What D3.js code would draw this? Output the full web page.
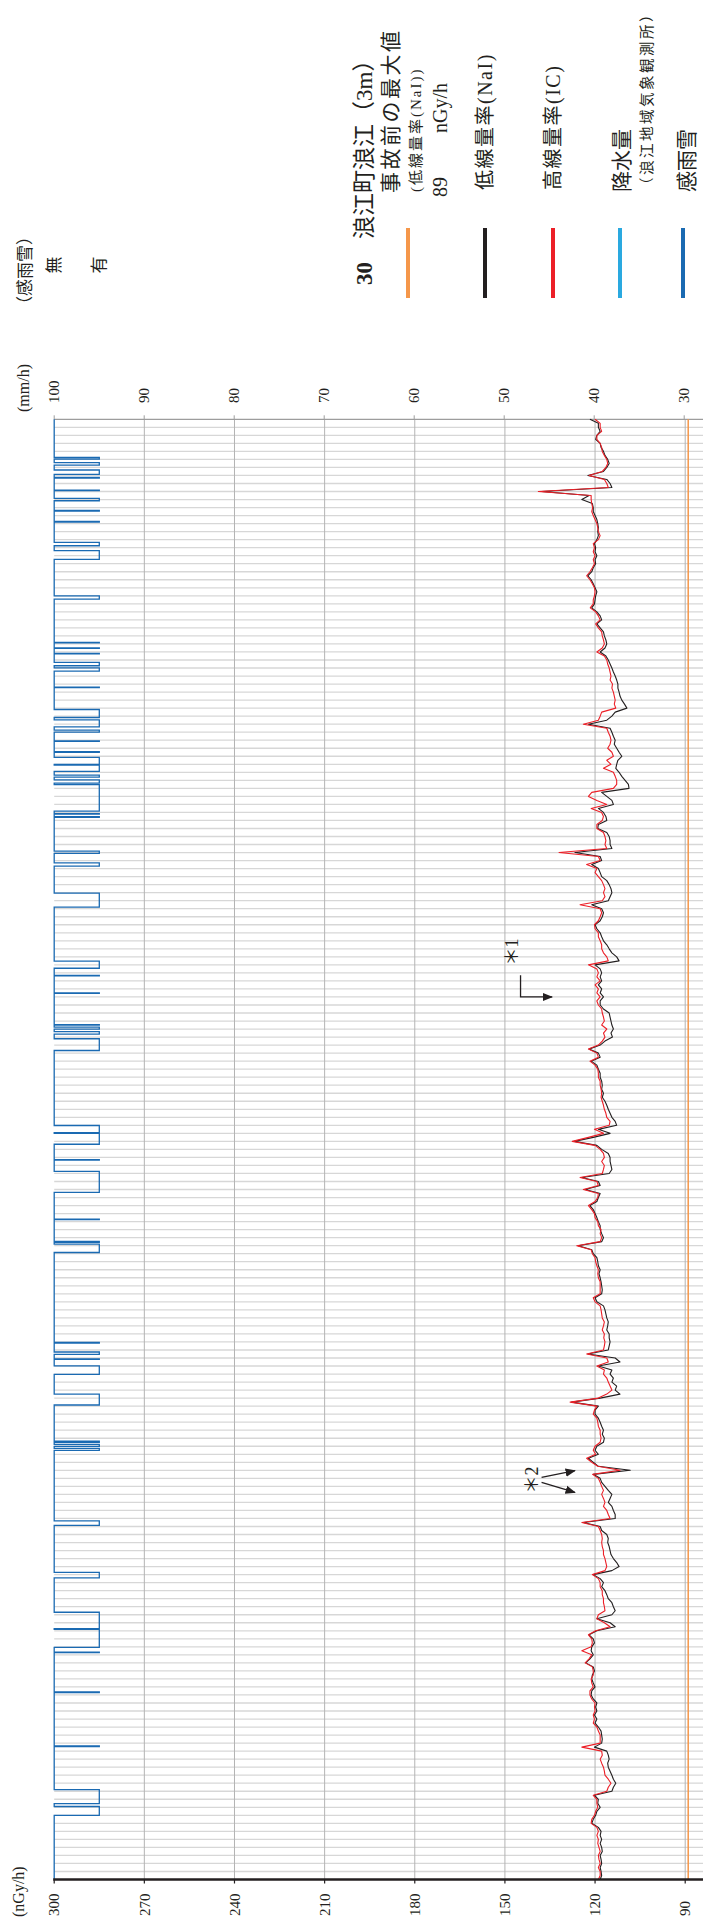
<!DOCTYPE html>
<html>
<head>
<meta charset="utf-8">
<script src="https://cdn.jsdelivr.net/npm/d3@7"></script>
<style>
  html, body { margin: 0; padding: 0; background: #fff; }
  svg { display: block; }
  text { font-family: "Liberation Serif", "Noto Sans CJK JP", serif; fill: #231f20; }
</style>
</head>
<body>
<svg id="chart" width="703" height="1919"></svg>
<script>
// ---- data ---------------------------------------------------------------
// Half-year record, one sample every half day (day 0 = start of the period).
const periodDays = 182;
const sampleStepDays = 0.5;

// Low dose-rate monitor, NaI (nGy/h)
const naiValues = [
  121.7,118.9,118.9,118.3,119.4,119.8,118.3,118.0,117.2,116.7,
  115.8,115.3,116.1,117.2,122.4,116.1,115.0,114.4,137.8,122.0,
  124.4,120.9,120.6,120.6,120.0,119.4,119.1,118.9,119.1,118.9,
  119.4,120.2,119.8,120.0,119.4,120.0,119.8,120.6,121.1,122.4,
  121.3,120.6,120.0,119.4,119.8,120.0,120.2,121.1,119.4,118.3,
  117.8,119.4,118.3,117.2,116.9,116.4,116.1,116.7,118.3,116.4,
  115.6,115.0,114.4,113.9,113.3,112.8,112.4,112.4,112.0,111.7,
  111.1,110.2,109.4,
  113.3,114.4,116.1,122.2,115.0,114.4,113.9,113.3,113.6,112.8,
  112.0,111.1,112.4,112.8,113.1,112.0,111.1,110.0,108.9,108.7,
  117.8,116.1,114.4,113.9,118.9,117.2,116.4,116.1,118.9,119.1,
  116.1,115.3,115.0,115.0,114.4,126.7,118.3,117.8,121.1,118.9,
  118.3,117.8,116.1,115.3,114.7,114.4,115.0,115.6,121.1,117.8,
  117.2,117.6,118.3,120.0,119.4,118.3,117.8,117.2,116.1,115.3,
  114.4,112.8,112.0,120.0,118.3,117.8,118.3,117.8,118.9,117.8,
  118.3,117.2,118.3,
  118.3,117.2,115.3,115.0,114.7,114.4,113.9,114.7,114.2,116.7,
  118.3,122.0,118.9,118.3,121.3,119.4,118.9,118.3,118.3,117.8,
  117.6,117.8,117.2,117.6,116.7,116.1,115.6,115.0,114.4,113.3,
  112.8,118.9,115.0,120.6,126.9,119.4,117.8,115.6,115.0,115.0,
  114.7,114.4,115.3,124.4,118.9,118.3,123.3,118.3,118.9,119.4,
  121.7,120.6,120.0,119.4,118.9,118.3,118.3,117.8,117.2,117.8,
  125.6,121.1,120.6,119.4,119.1,118.9,118.3,118.7,118.3,118.0,
  117.8,117.6,117.8,
  120.0,119.4,117.2,116.7,116.4,116.1,115.6,115.8,116.1,115.3,
  115.3,115.0,115.3,115.6,122.4,113.3,111.7,118.9,114.4,115.0,
  113.9,114.4,112.8,113.3,111.7,118.3,127.8,118.9,120.0,120.0,
  118.9,118.3,117.8,117.2,117.6,116.9,117.2,119.4,120.0,118.9,
  122.2,120.6,118.9,108.3,120.6,118.3,117.8,116.7,115.6,114.4,
  115.0,115.6,114.4,113.9,113.3,113.3,123.9,118.3,117.8,116.1,
  115.6,115.8,115.3,115.0,114.7,113.9,112.8,112.0,114.4,120.6,
  118.3,117.2,117.8,116.7,
  116.1,115.6,114.4,113.9,113.3,114.4,119.4,115.0,113.3,119.4,
  122.0,120.6,120.2,121.1,121.3,120.6,121.7,123.1,120.6,120.2,
  120.9,121.1,120.6,120.0,121.1,121.3,120.6,119.4,119.8,119.4,
  120.2,119.4,120.0,118.9,118.0,117.8,117.6,117.8,120.2,116.1,
  115.6,115.3,115.8,115.6,115.0,114.4,113.9,113.1,113.9,114.4,
  120.2,118.9,119.1,118.3,119.4,119.8,120.6,121.1,118.9,118.0,
  118.3,117.8,118.3,117.8,117.6,118.3,118.0,117.8,118.3,118.0,
  117.8,118.3
];

// High dose-rate monitor, ionisation chamber (nGy/h)
const icValues = [
  120.0,118.3,118.3,117.8,119.4,119.4,118.3,117.8,117.6,116.9,
  116.1,115.8,116.4,117.6,122.0,116.9,116.1,115.6,138.9,121.3,
  121.3,121.1,120.8,121.1,120.6,120.0,119.4,119.1,118.9,118.3,
  118.9,120.6,120.2,120.6,120.0,120.6,120.2,120.9,121.7,122.8,
  121.7,120.9,120.2,120.0,120.2,120.6,120.6,121.6,119.8,118.9,
  118.3,119.8,118.9,117.8,117.6,117.2,116.9,117.6,119.4,116.9,
  116.1,115.8,115.3,115.0,114.7,115.0,114.2,114.4,113.9,113.6,
  113.3,113.6,113.1,
  117.8,118.3,118.9,123.9,116.1,115.6,115.0,114.7,115.0,115.8,
  114.4,113.9,116.1,114.7,117.2,113.9,113.3,112.8,112.8,113.9,
  121.1,122.2,119.4,116.1,121.3,117.8,117.2,117.6,119.4,119.4,
  117.2,116.7,116.4,116.7,116.1,132.0,118.9,118.3,122.8,119.4,
  120.0,118.9,117.8,117.2,116.7,117.2,116.7,117.6,125.0,118.3,
  117.8,118.3,118.9,120.2,120.0,118.9,118.9,118.3,117.8,117.8,
  117.2,116.1,115.6,122.2,119.4,118.9,119.4,118.3,120.0,118.9,
  119.4,118.3,119.4,
  118.9,117.8,117.6,117.2,116.9,117.8,116.1,117.2,116.7,117.6,
  118.9,122.2,119.4,118.9,121.7,120.0,119.1,118.9,118.9,118.3,
  118.3,118.0,117.8,118.0,117.6,117.2,116.9,116.4,116.1,115.0,
  115.3,120.2,117.2,122.2,127.6,120.0,118.3,117.2,116.9,117.8,
  116.9,117.2,117.6,125.0,119.4,118.9,123.9,118.9,119.1,120.0,
  122.2,121.1,120.2,120.0,119.1,118.9,118.0,118.3,117.8,118.3,
  126.1,121.3,120.9,120.0,119.8,119.4,118.9,119.1,118.9,118.3,
  118.3,118.3,118.3,
  120.6,120.0,118.3,118.0,117.8,117.6,116.9,117.2,117.6,116.9,
  117.1,116.7,116.9,117.2,122.8,116.1,115.6,119.4,116.9,117.2,
  116.1,115.6,115.0,114.4,116.1,118.9,128.3,119.4,120.2,120.6,
  119.4,119.1,118.9,118.3,118.3,118.0,118.3,120.0,120.6,119.8,
  122.8,121.1,119.1,111.7,120.8,118.9,118.3,117.8,117.2,117.8,
  117.2,116.7,117.2,116.1,115.6,115.0,124.4,118.9,118.3,117.8,
  117.6,117.8,117.6,117.2,117.2,116.7,116.4,116.1,116.7,120.9,
  118.9,118.3,118.3,117.6,
  117.6,117.2,117.2,116.9,116.7,118.9,119.4,116.9,115.0,119.8,
  122.2,121.1,120.9,121.3,124.4,121.1,122.0,123.3,120.9,120.6,
  120.6,121.3,121.1,120.6,121.7,121.7,121.1,120.0,120.2,120.0,
  120.6,120.2,120.6,119.4,118.9,118.3,118.3,118.3,124.4,117.8,
  117.6,118.3,117.8,117.2,116.9,116.7,115.6,114.7,115.6,116.1,
  120.6,119.4,119.4,119.1,119.8,120.2,121.1,121.3,119.4,118.9,
  119.4,118.9,119.1,118.7,118.3,118.9,118.7,118.3,118.9,118.3,
  118.3,118.9
];

// Rain/snow sensor "on" intervals, [start day, end day]
const senseEvents = [
  [4.74,4.95],[5.41,5.70],[6.32,6.86],[7.23,7.32],[8.82,8.88],[9.85,10.15],
  [11.37,11.43],[12.74,12.81],[15.34,15.76],[16.38,17.46],[22.00,22.41],
  [27.81,27.87],[28.48,28.54],[29.18,29.24],[30.30,30.72],[30.97,31.38],
  [33.37,33.43],[36.17,37.17],[37.46,38.33],[38.74,38.99],[40.09,40.15],
  [41.43,41.50],[42.13,43.02],[43.11,43.89],[44.35,44.60],[44.94,45.35],
  [45.54,48.84],[49.15,49.21],[49.53,49.61],[53.83,54.11],[55.29,55.70],
  [59.06,60.81],[67.54,68.42],[69.31,69.38],[71.48,71.55],[75.45,75.52],
  [75.77,76.02],[76.33,76.62],[77.21,78.67],[88.02,88.90],[88.99,90.36],
  [92.28,92.34],[93.73,96.35],[99.70,99.76],[102.46,102.58],[102.81,103.85],
  [115.07,115.14],[116.25,116.55],[117.12,117.18],[117.99,119.04],[121.51,122.86],
  [127.36,127.52],[127.77,128.02],[128.27,128.52],[137.29,137.87],[143.72,144.41],
  [148.69,150.74],[150.81,153.07],[153.65,153.71],[158.63,158.69],[165.35,165.45],
  [170.79,172.54],[172.90,174.00]
];

// Pre-accident maximum of the NaI monitor (nGy/h)
const preAccidentMax = 89;

// Axis ticks
const doseTicks = [300, 270, 240, 210, 180, 150, 120, 90];
const rainTicks = [100, 90, 80, 70, 60, 50, 40, 30];

// Legend entries
const legendItems = [
  { key: "max",   color: "#f5974a" },
  { key: "nai",   color: "#231f20" },
  { key: "ic",    color: "#ec1f27" },
  { key: "rain",  color: "#2aa9e0" },
  { key: "sense", color: "#1a6ab2" }
];

(function draw() {
  // ---- layout -------------------------------------------------------------
  const plot = { left: 54.2, right: 703, top: 419.3, bottom: 1879.5 };
  const svg = d3.select("#chart");

  // value axes run horizontally (high values on the left), time runs downward
  const x = d3.scaleLinear().domain([300, 90]).range([plot.left, 685.2]);
  const xRain = d3.scaleLinear().domain([100, 30]).range([plot.left, 684.2]);
  const xSense = d3.scaleLinear().domain([0, 1]).range([plot.left, 99.3]);
  const y = d3.scaleLinear().domain([0, periodDays]).range([plot.top, plot.bottom]);

  // rotated text helper (reads bottom-to-top)
  function vtext(g, px, py, str, o = {}) {
    const t = g.append("text")
      .attr("transform", `translate(${px},${py}) rotate(-90)`)
      .attr("dy", o.dy || "0.35em")
      .attr("text-anchor", o.anchor || "start")
      .style("font-size", (o.size || 16) + "px");
    if (o.spacing) t.style("letter-spacing", o.spacing + "px");
    if (o.weight) t.style("font-weight", o.weight);
    t.text(str);
    return t;
  }

  // ---- grid ---------------------------------------------------------------
  const grid = svg.append("g");
  grid.selectAll("line.day")
    .data(d3.range(1, periodDays))
    .join("line")
    .attr("x1", plot.left).attr("x2", plot.right)
    .attr("y1", d => y(d)).attr("y2", d => y(d))
    .attr("stroke", "#d7d7d7").attr("stroke-width", 1.3);

  grid.selectAll("line.v")
    .data(doseTicks.filter(d => d !== 300))
    .join("line")
    .attr("x1", d => x(d)).attr("x2", d => x(d))
    .attr("y1", plot.top).attr("y2", plot.bottom)
    .attr("stroke", "#b4b4b4").attr("stroke-width", 1);

  // top frame + ticks of the precipitation axis
  grid.append("line")
    .attr("x1", plot.left).attr("x2", plot.right)
    .attr("y1", plot.top).attr("y2", plot.top)
    .attr("stroke", "#9d9d9d").attr("stroke-width", 1.2);
  grid.selectAll("line.rt")
    .data(rainTicks)
    .join("line")
    .attr("x1", d => xRain(d)).attr("x2", d => xRain(d))
    .attr("y1", plot.top - 4).attr("y2", plot.top)
    .attr("stroke", "#9d9d9d");

  // ---- series -------------------------------------------------------------
  svg.append("line")
    .attr("x1", x(preAccidentMax)).attr("x2", x(preAccidentMax))
    .attr("y1", plot.top).attr("y2", plot.bottom)
    .attr("stroke", "#f5974a").attr("stroke-width", 1.5);

  // rain/snow sensor step trace
  const sensePts = [{ t: 0, s: 0 }];
  senseEvents.forEach(([a, b]) => { sensePts.push({ t: a, s: 1 }); sensePts.push({ t: b, s: 0 }); });
  sensePts.push({ t: periodDays, s: 0 });
  svg.append("path")
    .attr("d", d3.line().x(d => xSense(d.s)).y(d => y(d.t)).curve(d3.curveStepBefore)(sensePts))
    .attr("fill", "none").attr("stroke", "#1a6ab2").attr("stroke-width", 1.3);

  const doseLine = d3.line()
    .x(d => x(d))
    .y((d, i) => y(i * sampleStepDays));

  svg.append("path").attr("d", doseLine(naiValues))
    .attr("fill", "none").attr("stroke", "#231f20").attr("stroke-width", 1.1)
    .attr("stroke-linejoin", "round");
  svg.append("path").attr("d", doseLine(icValues))
    .attr("fill", "none").attr("stroke", "#ec1f27").attr("stroke-width", 1.1)
    .attr("stroke-linejoin", "round");

  // ---- dose axis (bottom) -------------------------------------------------
  const axisG = svg.append("g");
  axisG.append("line")
    .attr("x1", plot.left - 1).attr("x2", plot.right)
    .attr("y1", plot.bottom).attr("y2", plot.bottom)
    .attr("stroke", "#231f20").attr("stroke-width", 2.6);
  axisG.selectAll("line.dt")
    .data(doseTicks)
    .join("line")
    .attr("x1", d => x(d)).attr("x2", d => x(d))
    .attr("y1", plot.bottom).attr("y2", plot.bottom + 4)
    .attr("stroke", "#231f20").attr("stroke-width", 1.2);
  doseTicks.forEach(d => vtext(axisG, x(d), 1916, String(d), { size: 15 }));
  vtext(axisG, 18, 1917, "(nGy/h)", { size: 16 });

  // ---- precipitation / sensor axis labels (top) ---------------------------
  const topAxisG = svg.append("g");
  rainTicks.forEach(d => vtext(topAxisG, xRain(d), 403, String(d), { size: 15 }));
  vtext(topAxisG, 23, 412, "(mm/h)", { size: 16 });
  vtext(topAxisG, 25, 313, "（感雨雪）", { size: 17 });
  vtext(topAxisG, xSense(0), 265, "無", { size: 17, anchor: "middle" });
  vtext(topAxisG, xSense(1), 265, "有", { size: 17, anchor: "middle" });

  // ---- title --------------------------------------------------------------
  const title = vtext(svg, 364, 285, "", { size: 23, anchor: "start" });
  title.append("tspan").style("font-weight", "bold").text("30");
  title.append("tspan").text("　浪江町浪江（3m）");

  // ---- legend -------------------------------------------------------------
  const legend = svg.append("g");
  const legendX = { max: 408, nai: 485, ic: 553, rain: 620, sense: 683 };
  legendItems.forEach(it => {
    legend.append("line")
      .attr("x1", legendX[it.key]).attr("x2", legendX[it.key])
      .attr("y1", 228).attr("y2", 298)
      .attr("stroke", it.color).attr("stroke-width", 4);
  });
  vtext(legend, 391, 193, "事故前の最大値", { size: 21, spacing: 2.5 });
  vtext(legend, 416, 192, "(低線量率(NaI))", { size: 15, spacing: 2 });
  vtext(legend, 440, 197, String(preAccidentMax), { size: 20 });
  vtext(legend, 440, 133, "nGy/h", { size: 20 });
  vtext(legend, 485, 190, "低線量率(NaI)", { size: 20, spacing: 1.5 });
  vtext(legend, 553, 190, "高線量率(IC)", { size: 20, spacing: 1.5 });
  vtext(legend, 622, 192, "降水量", { size: 21 });
  vtext(legend, 647, 192, "（浪江地域気象観測所）", { size: 14.5, spacing: 2.5 });
  vtext(legend, 687, 192, "感雨雪", { size: 21 });

  // ---- annotations --------------------------------------------------------
  const defs = svg.append("defs");
  defs.append("marker")
    .attr("id", "head").attr("viewBox", "0 0 10 10")
    .attr("refX", 9).attr("refY", 5)
    .attr("markerWidth", 8).attr("markerHeight", 8)
    .attr("orient", "auto")
    .append("path").attr("d", "M0,1 L10,5 L0,9 Z").attr("fill", "#231f20");

  const notes = svg.append("g");
  const noteLine = d3.line().x(d => x(d[0])).y(d => y(d[1]));
  // *1
  vtext(notes, 512, 952, "＊1", { size: 18, anchor: "middle" });
  notes.append("path")
    .attr("d", noteLine([[144.8, 69.3], [144.8, 72.0], [134.3, 72.0]]))
    .attr("fill", "none").attr("stroke", "#231f20").attr("stroke-width", 1.3)
    .attr("marker-end", "url(#head)");
  // *2
  vtext(notes, 532, 1480, "＊2", { size: 18, anchor: "middle" });
  [[[137.8, 131.88], [126.7, 131.05]], [[137.8, 132.5], [126.7, 133.75]]].forEach(seg => {
    notes.append("path")
      .attr("d", noteLine(seg))
      .attr("fill", "none").attr("stroke", "#231f20").attr("stroke-width", 1.3)
      .attr("marker-end", "url(#head)");
  });
})();
</script>
</body>
</html>
